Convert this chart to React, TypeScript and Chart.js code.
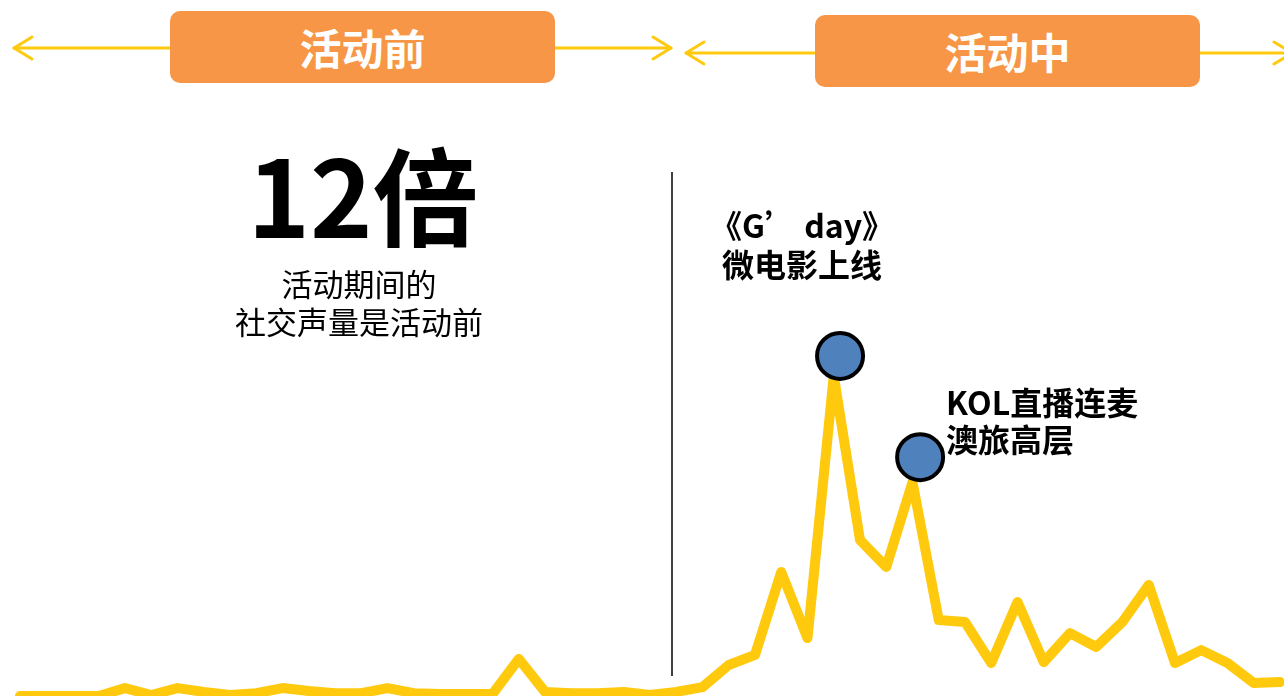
import React, { useEffect, useRef } from "react";
import { Chart, registerables } from "chart.js";

Chart.register(...registerables);

// Daily social volume index (49 days): before the campaign, then during it
const dayIndex: number[] = Array.from({ length: 49 }, (_, i) => i);
const volume: number[] = [
  0, 0, 0, 0, 2.5, 0.3, 2.5, 1.3, 0.3, 0.9,
  2.5, 1.6, 0.9, 0.9, 2.5, 0.9, 0.6, 0.6, 0.6, 11.7,
  1.3, 0.9, 0.9, 1.3, 0.3, 1.3, 2.8, 9.8, 13, 39.2,
  18.3, 101.2, 49.3, 40.8, 67.6, 24, 23.4, 10.4, 29.7, 10.7,
  19.9, 15.5, 23.4, 35.1, 10.4, 14.5, 10.4, 4.1, 4.4,
];
// Highlight markers (event positions)
const markerX: number[] = [31.24, 34.29];
const markerY: number[] = [107.5, 75.5];

const phaseLabels: string[] = ["活动前", "活动中"];
const bigNumber = "12倍";
const bigNumberNote: string[] = ["活动期间的", "社交声量是活动前"];
const event1: string[] = ["《G’ day》", "微电影上线"];
const event2: string[] = ["KOL直播连麦", "澳旅高层"];

const FONT = '"Noto Sans CJK SC", "Noto Sans", sans-serif';
const YELLOW = "#FFC90E";
const ORANGE = "#F79646";

export default function App() {
  const canvasRef = useRef<HTMLCanvasElement | null>(null);

  useEffect(() => {
    if (!canvasRef.current) return;
    const chart = new Chart(canvasRef.current, {
      type: "line",
      data: {
        datasets: [
          {
            label: "markers",
            data: markerX.map((x, i) => ({ x, y: markerY[i] })),
            showLine: false,
            pointRadius: 23,
            pointBorderWidth: 4,
            pointBackgroundColor: "#4F81BD",
            pointBorderColor: "#000000",
            order: 1,
            clip: false as any,
          },
          {
            label: "volume",
            data: dayIndex.map((x, i) => ({ x, y: volume[i] })),
            borderColor: YELLOW,
            borderWidth: 10,
            pointRadius: 0,
            tension: 0,
            borderJoinStyle: "round",
            borderCapStyle: "round",
            order: 2,
            clip: false as any,
          },
        ],
      },
      options: {
        animation: false,
        responsive: false,
        maintainAspectRatio: false,
        layout: { autoPadding: false, padding: { left: 20, right: 4, top: 0, bottom: 0 } },
        scales: {
          x: { type: "linear", min: 0, max: 48, display: false },
          y: { min: 0, max: 220, display: false },
        },
        plugins: { legend: { display: false }, tooltip: { enabled: false } },
      },
    });
    return () => chart.destroy();
  }, []);

  const box = (left: number, top: number, text: string) => (
    <div
      style={{
        position: "absolute",
        left,
        top,
        width: 385,
        height: 72,
        background: ORANGE,
        borderRadius: 10,
        color: "#fff",
        fontFamily: FONT,
        fontWeight: 700,
        fontSize: 42,
        display: "flex",
        alignItems: "center",
        justifyContent: "center",
        lineHeight: 1,
      }}
    >
      {text}
    </div>
  );

  return (
    <div
      style={{
        position: "fixed",
        left: 0,
        top: 0,
        width: 1284,
        height: 696,
        overflow: "hidden",
        background: "#fff",
      }}
    >
      <canvas
        ref={canvasRef}
        width={1284}
        height={696}
        style={{ position: "absolute", left: 0, top: 0, width: 1284, height: 696 }}
      />
      <svg
        width={1284}
        height={696}
        style={{ position: "absolute", left: 0, top: 0 }}
      >
        <g stroke={YELLOW} strokeWidth={3} fill="none" strokeLinecap="round" strokeLinejoin="round">
          <line x1={14} y1={48} x2={671} y2={48} />
          <polyline points="32,37 14,48 32,59" />
          <polyline points="653,37 671,48 653,59" />
          <line x1={686} y1={53} x2={1292} y2={53} />
          <polyline points="704,42 686,53 704,64" />
          <polyline points="1274,42 1292,53 1274,64" />
        </g>
      </svg>
      {box(170, 11, phaseLabels[0])}
      {box(815, 15, phaseLabels[1])}
      <div
        style={{
          position: "absolute",
          left: 671,
          top: 172,
          width: 2,
          height: 504,
          background: "#404040",
        }}
      />
      <div
        style={{
          position: "absolute",
          left: 363,
          top: 139,
          transform: "translateX(-50%)",
          fontFamily: FONT,
          fontWeight: 700,
          fontSize: 106,
          lineHeight: "106px",
          whiteSpace: "nowrap",
          color: "#000",
        }}
      >
        {bigNumber}
      </div>
      <div
        style={{
          position: "absolute",
          left: 359,
          top: 264,
          transform: "translateX(-50%)",
          fontFamily: FONT,
          fontWeight: 400,
          fontSize: 31,
          lineHeight: "38px",
          whiteSpace: "nowrap",
          textAlign: "center",
          color: "#000",
        }}
      >
        {bigNumberNote.map((t) => (
          <div key={t}>{t}</div>
        ))}
      </div>
      <div
        style={{
          position: "absolute",
          left: 802,
          top: 205,
          transform: "translateX(-50%)",
          fontFamily: FONT,
          fontWeight: 700,
          fontSize: 32,
          lineHeight: "39px",
          whiteSpace: "nowrap",
          textAlign: "center",
          color: "#000",
        }}
      >
        {event1.map((t) => (
          <div key={t}>{t}</div>
        ))}
      </div>
      <div
        style={{
          position: "absolute",
          left: 946,
          top: 383,
          fontFamily: FONT,
          fontWeight: 700,
          fontSize: 32,
          lineHeight: "37px",
          whiteSpace: "nowrap",
          textAlign: "left",
          color: "#000",
        }}
      >
        {event2.map((t) => (
          <div key={t}>{t}</div>
        ))}
      </div>
    </div>
  );
}
